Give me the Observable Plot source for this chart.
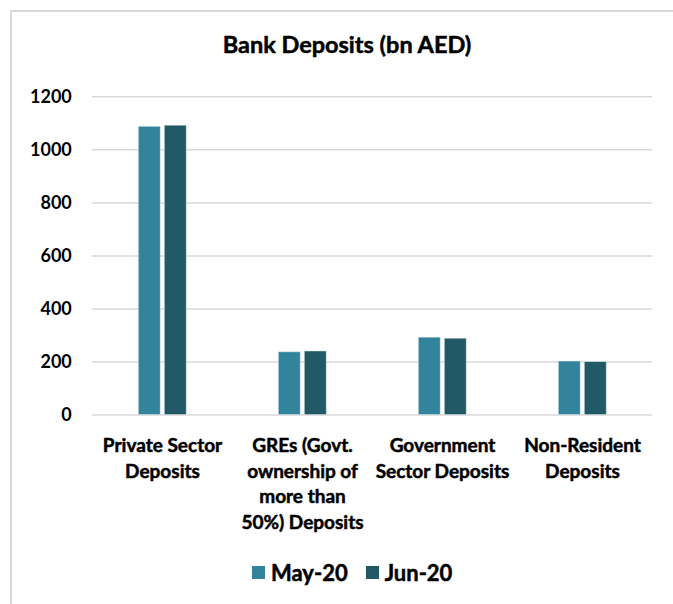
<!DOCTYPE html>
<html>
<head>
<meta charset="utf-8">
<script src="https://cdn.jsdelivr.net/npm/d3@7"></script>
<script src="https://cdn.jsdelivr.net/npm/@observablehq/plot@0.6"></script>
<style>
  html, body { margin: 0; padding: 0; background: #fff; }
  #wrap { position: relative; width: 673px; height: 604px; overflow: hidden; font-family: Lato, "Open Sans", sans-serif; }
  #frame { position: absolute; left: 10px; top: 10px; width: 700px; height: 700px; border-left: 2px solid #d9d9d9; border-top: 2px solid #d9d9d9; box-sizing: border-box; }
  #title { position: absolute; top: 30px; left: 347px; transform: translateX(-50%); font-weight: 700; font-size: 23.5px; color: #000; white-space: nowrap; -webkit-text-stroke: 0.5px #000; }
  #chart { position: absolute; top: 80px; left: 0; }
  #legend { position: absolute; top: 559px; left: 252px; display: flex; align-items: center; font-weight: 700; font-size: 22px; color: #000; white-space: nowrap; -webkit-text-stroke: 0.5px #000; }
  .sw { display: inline-block; width: 13px; height: 13px; margin-right: 6px; }
  .item { display: flex; align-items: center; margin-right: 18px; }
</style>
</head>
<body>
<div id="wrap">
  <div id="frame"></div>
  <div id="title">Bank Deposits (bn AED)</div>
  <div id="chart"></div>
  <div id="legend"></div>
</div>
<script>
const categories = ["Private Sector Deposits", "GREs (Govt. ownership of more than 50%) Deposits", "Government Sector Deposits", "Non-Resident Deposits"];
const categoryLabels = ["Private Sector\nDeposits", "GREs (Govt.\nownership of\nmore than\n50%) Deposits", "Government\nSector Deposits", "Non-Resident\nDeposits"];
const series = ["May-20", "Jun-20"];
const may20 = [1087, 237, 292, 202];
const jun20 = [1091, 240, 288, 200];
const colors = ["#31849b", "#215967"];
const yTicks = [0, 200, 400, 600, 800, 1000, 1200];

const data = [];
categories.forEach((c, i) => {
  data.push({category: c, series: series[0], value: may20[i]});
  data.push({category: c, series: series[1], value: jun20[i]});
});
const labels = categories.map((c, i) => ({category: c, label: categoryLabels[i]}));

const chart = Plot.plot({
  width: 673,
  height: 470,
  marginLeft: 91.7,
  marginRight: 20,
  marginTop: 16.3,
  marginBottom: 135.4,
  style: {fontFamily: "Lato, 'Open Sans', sans-serif", background: "transparent", overflow: "visible"},
  fx: {domain: categories, padding: 0, axis: null},
  x: {domain: series, paddingInner: 0.167, paddingOuter: 1.74, axis: null},
  y: {domain: [0, 1200], axis: null},
  color: {domain: series, range: colors},
  marks: [
    Plot.gridY(yTicks, {stroke: "#d9d9d9", strokeOpacity: 1, strokeWidth: 1.5}),
    Plot.barY(data, {fx: "category", x: "series", y: "value", fill: "series", stroke: "#ffffff", strokeOpacity: 0.45, strokeWidth: 1}),
    Plot.axisY(yTicks, {tickSize: 0, tickPadding: 20.7, tickFormat: d => String(d), fontSize: 18, fontWeight: 700, fill: "#000", stroke: "#000", strokeWidth: 0.5, label: null, facetAnchor: "left"}),
    Plot.text(labels, {fx: "category", text: "label", frameAnchor: "bottom", lineAnchor: "top", dy: 19, fontSize: 19, fontWeight: 700, fill: "#000", stroke: "#000", strokeWidth: 0.5, lineHeight: 1.34})
  ]
});
document.getElementById("chart").appendChild(chart);

const legend = document.getElementById("legend");
series.forEach((s, i) => {
  const item = document.createElement("div");
  item.className = "item";
  const sw = document.createElement("span");
  sw.className = "sw";
  sw.style.background = colors[i];
  item.appendChild(sw);
  item.appendChild(document.createTextNode(s));
  legend.appendChild(item);
});
</script>
</body>
</html>
